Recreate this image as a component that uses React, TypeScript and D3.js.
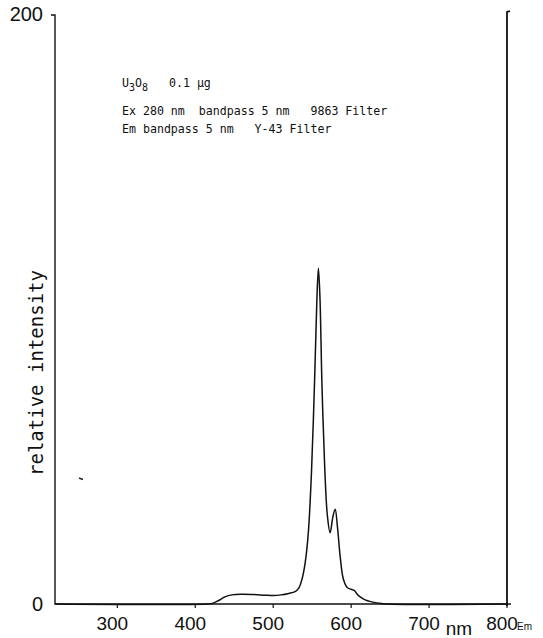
import React from "react";
import * as d3 from "d3";

const wavelengths = [220, 415, 423, 430, 438, 447, 460, 475, 490, 500, 510, 520, 528, 533, 537, 541, 545, 549, 553, 556, 558, 560, 562.5, 566, 569.5, 573, 576.5, 579.5, 582.5, 586, 590, 595, 600, 604, 608, 612, 618, 625, 635, 645, 800];
const intensities = [0, 0, 0.3, 1.2, 2.4, 3.1, 3.3, 3.2, 3.0, 2.9, 3.1, 3.6, 4.2, 5.5, 8.5, 14, 24, 44, 75, 103, 114, 104, 75, 47, 30, 24.2, 29.5, 32.2, 26, 16, 8.5, 5.6, 5.0, 4.6, 3.2, 2.3, 1.4, 0.8, 0.3, 0, 0];
const xTicks = [300, 400, 500, 600, 700, 800];
const yTickLabels = [0, 200];
const annotationLines = ["Ex 280 nm  bandpass 5 nm   9863 Filter", "Em bandpass 5 nm   Y-43 Filter"];

export default function App() {
  const W = 543, H = 638;
  const x = d3.scaleLinear().domain([220, 800]).range([55, 507]);
  const y = d3.scaleLinear().domain([0, 200]).range([604, 15]);
  const pts: [number, number][] = wavelengths.map((w, i) => [w, intensities[i]]);
  const line = d3.line<[number, number]>()
    .x(d => x(d[0]))
    .y(d => y(d[1]))
    .curve(d3.curveCatmullRom.alpha(0.5));
  const mono = "'DejaVu Sans Mono', monospace";
  const sans = "'Liberation Sans', Arial, sans-serif";
  return (
    <svg width={W} height={H} style={{ position: "absolute", left: 0, top: 0, background: "#fff" }}>
      <rect width={W} height={H} fill="#fff" />
      {/* axes */}
      <path d={`M${x(220) - 4},${y(200)} L${x(220)},${y(200)} L${x(220)},${y(0)} L${x(800) + 4},${y(0)}`} fill="none" stroke="#111" strokeWidth={1.4} />
      <path d={`M${x(800) + 3},${y(200) - 4} L${x(800)},${y(200) - 3} L${x(800)},${y(0) + 2}`} fill="none" stroke="#111" strokeWidth={1.8} />
      {xTicks.map(t => (
        <line key={t} x1={x(t)} x2={x(t)} y1={y(0)} y2={y(0) + 4} stroke="#111" strokeWidth={1.2} />
      ))}
      {xTicks.map(t => (
        <text key={"l" + t} x={x(t) - 5} y={630} textAnchor="middle" fontFamily={sans} fontSize={19} fill="#111">{t}</text>
      ))}
      <text x={x(800) + 10} y={630} fontFamily={sans} fontSize={10} fill="#111">Em</text>
      <text x={459} y={635} textAnchor="middle" fontFamily={sans} fontSize={19} fill="#111">nm</text>
      {yTickLabels.map(t => (
        <text key={"y" + t} x={43} y={t === 0 ? 611 : 21} textAnchor="end" fontFamily={sans} fontSize={20} fill="#111">{t}</text>
      ))}
      <text transform={`translate(43,373) rotate(-90)`} textAnchor="middle" fontFamily={mono} fontSize={19} fill="#111">relative intensity</text>
      {/* annotation */}
      <text x={122} y={87} fontFamily={mono} fontSize={11.6} fill="#111" style={{ whiteSpace: "pre" }}>
        <tspan>U</tspan><tspan dy={4} fontSize={10}>3</tspan><tspan dy={-4}>O</tspan><tspan dy={4} fontSize={10}>8</tspan><tspan dy={-4}>{"   0.1 µg"}</tspan>
      </text>
      {annotationLines.map((s, i) => (
        <text key={i} x={122} y={115 + i * 18} fontFamily={mono} fontSize={11.6} fill="#111" style={{ whiteSpace: "pre" }}>{s}</text>
      ))}
      {/* speck */}
      <line x1={79} x2={83} y1={478} y2={479.5} stroke="#222" strokeWidth={1.5} />
      {/* spectrum */}
      <path d={line(pts) || ""} fill="none" stroke="#111" strokeWidth={1.5} />
    </svg>
  );
}
